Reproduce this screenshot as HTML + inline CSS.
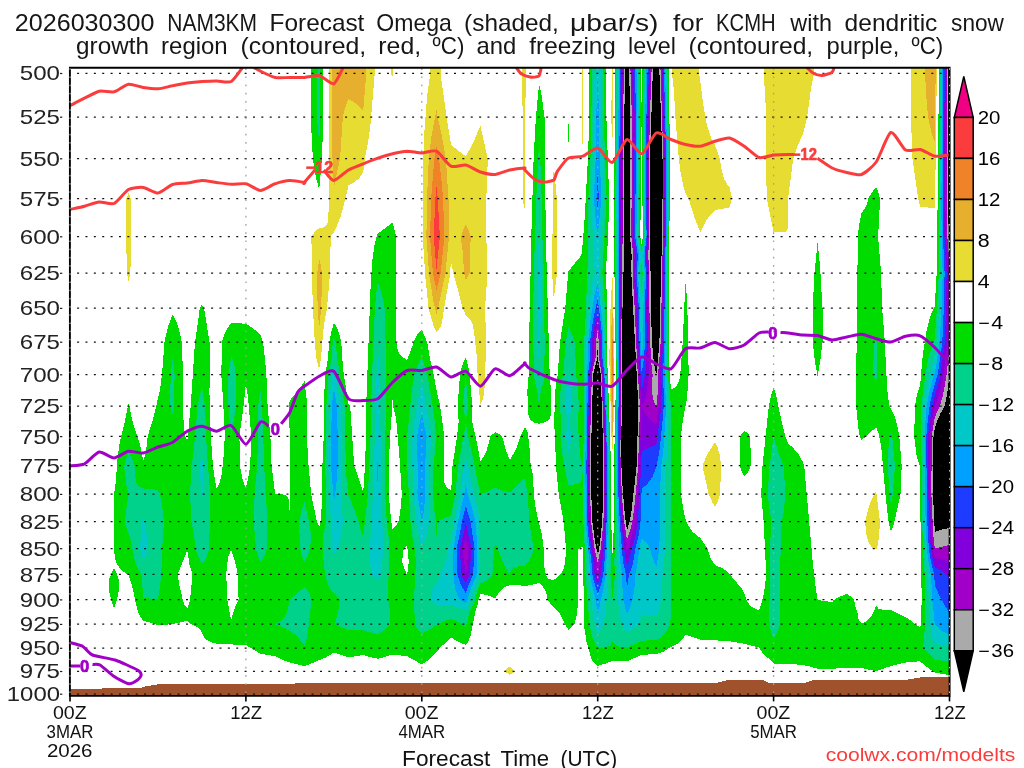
<!DOCTYPE html>
<html lang="en"><head><meta charset="utf-8"><title>NAM3KM Forecast Omega for KCMH</title>
<style>html,body{margin:0;padding:0;background:#fff;}body{width:1024px;height:768px;overflow:hidden;font-family:"Liberation Sans", sans-serif;}svg{display:block;}text{font-family:"Liberation Sans", sans-serif;white-space:pre;}</style></head><body>
<svg width="1024" height="768" viewBox="0 0 1024 768">
<rect width="1024" height="768" fill="#fff"/>
<defs><clipPath id="pc"><rect x="70.0" y="68.0" width="879.5" height="627.5"/></clipPath></defs>
<g clip-path="url(#pc)">
<g shape-rendering="crispEdges">
<path fill="#e6dc32" d="M329.2,67.0L374.7,67.0L374.7,73.5L370.5,124.6L367.9,143.4L364.8,158.8L363.2,172.3L360.7,176.1L358.3,179.0L353.4,182.9L348.5,185.5L343.0,208.3L340.1,217.9L336.3,227.3L333.9,232.1L331.4,235.2L331.0,236.8L330.1,255.2L330.0,273.3L327.0,308.4L325.3,317.0L323.4,329.7L320.9,358.7L319.2,369.2L316.3,358.7L314.8,342.2L312.9,308.4L311.9,273.3L312.0,255.2L311.2,236.8L314.3,232.4L316.7,230.0L319.2,228.3L324.1,227.2L326.5,225.3L327.6,222.6L328.3,217.9L329.0,198.7ZM390.8,67.0L393.2,67.0L393.2,73.5L392.5,76.3L390.8,73.5ZM430.2,67.0L440.5,67.0L440.5,73.5L446.6,117.2L451.1,145.1L465.8,156.3L473.1,143.0L480.4,125.6L487.8,158.8L486.3,198.7L486.3,236.8L487.5,273.3L485.0,308.4L486.3,342.2L484.4,390.7L482.9,399.3L481.6,402.3L480.4,404.1L477.6,374.8L476.6,354.6L474.3,333.9L473.0,325.5L470.7,320.2L468.2,317.2L465.8,315.4L462.7,308.4L458.4,291.1L453.3,273.3L451.1,261.5L449.5,277.8L444.0,308.4L442.9,317.0L441.1,325.5L438.9,329.4L436.5,332.2L433.4,325.5L428.6,308.4L425.4,277.8L422.7,236.8L422.8,198.7L423.2,158.8L424.2,134.0L427.2,95.6L430.2,73.5ZM521.5,67.0L526.2,67.0L525.1,117.2L524.9,198.7L524.5,208.3L524.4,211.5L522.8,198.7L523.4,158.8L522.8,117.2ZM582.1,67.0L583.3,67.0L583.5,117.2L583.1,148.6L583.0,150.1L582.0,138.3L581.8,117.2ZM612.1,67.0L612.5,67.0L612.9,117.2L612.4,143.4L612.4,143.4L611.2,117.2ZM671.6,67.0L699.0,67.0L699.0,73.5L700.3,80.9L703.5,106.4L706.3,122.5L710.1,135.3L712.5,140.8L715.0,145.1L719.9,158.8L721.4,168.9L724.2,179.0L726.8,183.9L729.6,187.5L732.0,198.7L729.6,207.4L719.9,209.2L715.0,210.1L711.9,213.1L708.0,217.9L705.2,222.3L700.3,232.5L694.6,217.9L688.7,198.7L685.6,193.6L684.0,188.8L680.8,174.1L678.8,158.8L675.4,117.2L673.9,90.1L672.7,79.0L671.6,73.5ZM763.8,67.0L813.9,67.0L813.9,73.5L810.8,90.1L807.1,117.2L805.9,122.5L802.9,134.1L798.0,145.1L793.2,158.8L789.3,188.8L788.1,198.7L788.3,227.7L785.8,231.7L784.3,232.1L773.6,232.5L766.9,198.7L765.7,158.8L766.3,117.2L763.8,73.5ZM910.9,67.0L936.8,67.0L936.1,138.3L934.9,203.5L934.8,208.1L920.2,206.9L918.1,198.7L912.5,158.8L910.9,117.2ZM553.6,168.9L553.7,164.1L556.8,198.7L557.2,236.8L556.9,273.3L554.8,291.1L553.7,298.8L552.2,273.3L552.8,198.7ZM128.2,193.7L128.6,192.5L130.8,198.7L131.1,236.8L130.4,273.3L129.4,277.8L128.6,281.2L126.9,273.3L126.2,236.8L126.4,198.7ZM612.2,277.8L612.4,273.6L613.7,325.5L614.5,374.8L613.2,436.6L612.4,451.4L612.4,464.7L612.3,451.4L611.5,436.6L609.3,358.7L610.3,312.7ZM713.8,444.0L715.0,442.5L717.7,447.7L719.9,455.8L721.2,465.9L720.0,494.4L717.7,501.3L715.0,507.5L712.5,502.5L708.7,494.4L702.5,465.9L705.2,458.9L707.6,453.7ZM874.2,494.4L876.2,491.4L880.0,521.9L878.8,538.7L877.6,545.4L876.2,549.6L873.9,548.7L873.8,548.6L871.3,546.5L868.5,542.0L866.4,534.6L865.0,521.9L868.9,506.8L871.3,500.3ZM506.9,668.6L509.8,666.3L515.3,671.5L512.2,673.5L509.8,674.7L504.0,671.5Z"/>
<path fill="#e6af2d" d="M332.3,67.0L366.3,67.0L366.3,73.5L363.2,111.1L359.1,106.4L355.8,103.5L348.5,99.0L346.1,104.8L344.0,111.8L342.9,117.2L342.5,122.5L340.1,158.8L336.7,173.9L333.9,188.8L332.5,158.8ZM925.0,67.0L935.7,67.0L934.9,138.3L934.8,142.3L931.6,133.0L928.0,117.2L925.8,90.1ZM436.1,111.8L436.5,110.0L437.6,117.2L441.3,133.0L445.9,158.8L448.5,198.7L449.0,236.8L445.4,273.3L438.0,308.4L436.5,314.0L433.9,304.1L429.1,274.6L426.4,236.8L427.0,198.7L428.8,158.8L431.6,135.3ZM464.1,227.3L465.8,224.2L468.2,229.2L470.7,236.8L469.5,273.3L467.0,277.8L465.8,279.6L464.1,273.3L462.6,250.6L460.7,236.8ZM319.1,259.8L319.2,259.0L320.5,264.3L322.2,273.3L321.2,308.4L319.8,321.2L319.2,329.4L317.6,308.4L317.2,273.3ZM612.1,312.7L612.4,309.1L613.1,333.9L613.8,374.8L612.5,432.8L612.4,436.4L610.6,374.8L610.5,358.7L611.1,333.9Z"/>
<path fill="#f08228" d="M436.1,148.6L436.5,146.5L439.0,158.8L441.8,183.9L443.1,198.7L444.4,236.8L440.7,273.3L438.6,282.2L436.5,289.9L432.9,273.3L430.0,236.8L431.2,198.7L431.9,188.8L434.4,158.8ZM612.2,338.1L612.4,334.0L612.6,342.2L613.1,374.8L612.5,402.3L612.4,406.1L611.5,374.8Z"/>
<path fill="#fa3c3c" d="M436.3,188.8L436.5,187.4L437.8,198.7L439.9,236.8L436.5,268.8L436.5,269.0L433.7,236.8L435.4,198.7Z"/>
<path fill="#00dc00" d="M311.0,67.0L323.0,67.0L323.3,117.2L323.0,127.7L321.9,158.8L319.8,183.9L319.2,188.8L316.7,180.9L315.2,173.9L313.6,163.9L312.6,153.7L310.7,117.2ZM589.1,67.0L606.3,67.0L606.4,117.2L609.2,198.7L608.1,236.8L605.7,273.3L606.6,291.1L607.2,342.2L607.0,358.7L607.9,374.8L610.5,451.4L611.2,494.4L611.2,521.9L612.4,554.2L613.1,545.4L613.9,521.9L613.7,494.4L614.2,451.4L614.8,436.6L616.0,374.8L613.9,236.8L613.9,198.7L615.1,117.2L615.1,67.0L640.9,67.0L641.7,112.2L642.3,67.0L668.7,67.0L670.0,158.8L670.0,198.7L669.2,236.8L668.8,308.4L669.6,374.8L671.0,389.3L673.4,388.3L675.9,386.6L678.3,382.8L679.5,378.8L680.8,368.2L682.7,342.2L685.0,291.1L685.6,282.5L686.1,286.6L687.2,304.1L688.3,342.2L688.6,374.8L687.0,398.4L683.2,418.3L680.7,436.6L680.7,465.9L681.0,494.4L683.7,511.7L685.6,519.7L686.6,521.9L690.2,528.7L692.9,532.0L696.6,535.4L700.3,537.8L707.4,548.7L710.8,558.5L714.9,565.0L722.3,568.2L727.1,571.4L729.6,573.8L734.5,580.4L741.1,587.3L744.3,593.2L746.7,600.5L749.2,604.3L751.6,606.6L754.1,608.2L758.9,610.1L761.4,603.7L763.2,596.7L764.8,587.3L766.2,574.6L763.8,523.6L761.2,494.4L762.5,465.9L768.8,406.2L771.2,394.5L773.6,387.6L776.0,394.9L781.6,421.5L785.5,436.6L786.9,440.3L788.3,443.6L793.1,447.8L799.0,455.0L802.9,462.1L804.2,465.9L813.0,565.0L816.1,590.5L817.6,600.1L832.2,602.0L833.9,599.9L834.7,599.4L839.7,596.7L846.9,593.8L851.0,596.7L854.2,599.9L855.2,606.0L857.3,612.2L858.4,618.3L859.7,621.3L861.5,623.5L866.1,621.3L869.7,618.3L871.9,615.2L875.0,609.1L876.2,604.2L876.6,606.0L878.7,608.8L883.5,609.7L890.9,610.0L908.0,618.6L912.1,621.3L915.3,624.6L920.2,627.1L920.8,624.4L921.7,599.9L920.5,521.9L920.2,467.1L917.7,460.1L916.5,455.0L914.6,440.3L914.3,436.6L914.8,406.2L917.1,394.5L920.2,384.4L922.8,354.6L926.8,329.7L930.0,317.0L932.4,310.8L934.8,306.0L936.9,268.8L939.0,67.0L949.5,67.0L949.5,675.1L934.8,672.6L925.1,665.8L920.2,661.3L908.0,662.1L900.6,663.5L886.0,667.6L876.2,671.2L861.5,668.0L846.9,668.0L832.2,668.7L817.6,668.7L810.2,666.6L802.9,665.0L788.3,663.7L773.6,663.5L770.3,660.0L763.8,654.3L761.3,651.2L758.9,647.5L744.3,643.7L729.6,641.2L700.3,639.5L685.6,634.7L682.5,639.4L678.3,643.1L674.8,645.3L668.6,648.3L664.4,651.2L661.2,652.6L656.3,654.0L641.7,654.9L627.0,661.3L612.4,661.0L605.0,663.8L597.7,665.8L594.2,662.9L591.8,660.0L586.6,642.3L584.7,630.4L584.0,624.4L583.0,546.5L578.5,548.7L578.2,574.6L578.4,599.9L576.7,615.2L574.6,624.4L568.4,629.8L565.1,624.4L561.1,615.7L558.6,612.2L552.3,606.0L547.5,599.9L546.4,593.7L545.3,590.5L541.1,584.2L539.1,583.1L531.7,584.9L524.4,586.1L519.5,585.3L509.8,585.1L504.9,587.0L502.4,588.8L498.1,593.6L495.1,598.8L492.6,597.1L490.2,596.0L485.3,594.7L480.4,594.0L478.6,599.9L477.3,606.0L475.2,612.2L470.7,635.6L468.2,641.7L465.8,645.0L458.4,641.8L451.1,637.6L439.4,648.3L436.5,652.5L431.7,657.0L428.4,660.0L421.8,664.4L407.1,656.2L392.5,654.5L385.2,656.9L377.8,658.8L370.1,657.0L363.2,655.0L348.5,657.5L333.9,652.5L326.5,657.1L304.5,666.3L287.4,661.7L282.5,659.8L275.2,656.3L260.6,653.8L245.9,645.0L233.7,644.6L231.2,643.5L216.6,643.8L211.4,642.3L206.8,639.9L204.4,637.4L201.9,632.4L199.5,628.9L197.0,626.8L191.6,624.4L189.7,623.1L187.3,620.5L182.4,622.1L175.1,623.5L167.7,624.6L157.9,625.2L155.5,624.1L143.3,620.7L139.5,615.2L137.1,609.1L132.4,587.3L128.6,574.8L123.7,571.9L121.3,569.8L118.9,567.0L115.9,561.7L114.6,555.2L113.9,548.7L113.9,494.4L115.6,483.8L117.5,458.7L118.9,447.5L120.2,440.3L124.9,421.5L127.8,406.2L128.6,403.8L129.5,406.2L131.7,417.7L133.6,425.3L140.0,444.0L143.3,460.7L144.1,458.7L146.1,451.4L147.6,436.6L153.4,417.7L159.8,390.7L162.0,374.8L164.5,342.2L165.3,338.1L168.4,325.5L172.6,314.3L175.1,318.7L177.7,325.5L179.9,333.3L181.7,342.2L183.1,374.8L182.8,406.2L183.3,417.7L184.8,434.7L185.2,436.6L187.3,441.2L190.7,406.2L195.0,342.2L199.8,308.4L201.9,304.5L204.1,308.4L209.5,342.2L210.1,374.8L209.4,390.7L210.8,436.6L212.9,465.9L214.4,476.7L216.6,488.8L219.3,483.8L221.9,473.1L223.4,458.7L224.8,436.6L223.0,398.4L221.3,374.8L222.0,342.2L223.9,335.8L226.4,330.1L228.8,326.1L231.2,323.0L245.9,323.7L253.2,328.4L259.5,333.9L260.6,335.1L263.0,342.0L265.0,358.7L266.6,378.8L267.6,406.2L270.4,436.6L271.6,465.9L274.8,490.9L275.2,493.7L282.7,494.4L285.0,494.9L287.4,496.6L288.1,497.9L289.0,501.3L289.9,516.1L290.1,436.6L289.3,425.3L288.8,406.2L289.9,400.4L297.9,390.7L304.5,381.3L307.5,406.2L306.9,436.6L308.3,462.3L311.2,494.4L316.9,521.9L319.2,526.6L320.7,521.9L322.5,494.4L322.4,465.9L323.7,436.6L323.7,406.2L325.2,374.8L327.9,358.7L329.2,342.2L331.4,331.9L333.9,322.9L336.3,326.7L338.7,331.9L341.3,342.2L342.3,358.7L343.8,374.8L348.5,404.3L350.2,406.2L354.2,465.9L358.2,476.7L363.2,492.5L365.0,465.9L366.0,436.6L366.2,406.2L370.6,286.6L372.4,259.8L374.3,246.0L376.5,236.8L377.8,233.6L392.5,222.6L396.2,236.8L396.4,342.2L397.0,346.3L397.9,350.5L399.8,354.6L402.3,357.1L407.1,360.0L415.4,338.1L417.8,333.9L421.8,329.7L427.2,342.2L429.9,358.7L433.8,374.8L436.5,390.2L440.2,406.2L443.3,429.1L444.2,436.6L444.1,465.9L443.5,480.3L444.6,483.8L446.9,487.3L448.7,488.7L451.1,489.8L452.0,480.3L452.5,465.9L457.0,436.6L458.7,421.5L457.5,406.2L460.0,374.8L461.8,366.7L463.3,362.4L465.8,357.5L468.2,366.7L469.7,374.8L472.3,406.2L472.1,421.5L475.6,436.6L480.4,461.1L482.9,457.9L486.3,451.4L488.5,444.0L490.2,436.6L495.1,432.1L500.0,434.7L502.2,436.6L506.3,451.4L509.8,460.0L514.9,451.4L518.0,444.0L520.4,436.6L524.4,427.6L526.3,429.1L527.8,432.8L529.5,447.7L530.7,465.9L531.8,469.5L533.1,476.7L533.8,494.4L535.1,504.8L537.0,515.1L541.3,532.0L543.0,542.0L543.7,548.7L544.2,565.0L544.8,571.4L547.3,577.8L548.8,579.0L553.7,580.2L561.1,573.6L563.5,569.1L564.5,565.0L565.4,558.5L566.0,548.7L563.7,521.9L558.7,494.4L556.3,469.5L554.2,421.5L555.2,390.7L557.7,374.8L560.0,342.2L565.2,308.4L568.4,271.2L581.4,255.2L582.1,250.6L584.7,217.9L587.9,158.8L588.6,138.3ZM641.7,117.5L640.9,158.8L640.9,198.7L640.2,236.8L641.7,244.5L642.8,236.8ZM187.3,550.4L177.5,574.6L179.9,587.7L182.8,599.9L184.8,605.3L187.3,608.3L188.3,606.0L190.0,599.9L192.5,574.6L189.5,565.0ZM231.2,550.0L228.8,555.2L228.0,558.5L227.0,565.0L226.2,574.6L227.4,599.9L229.5,612.2L231.2,619.9L234.3,609.1L236.1,604.5L238.6,599.9L237.9,574.6L235.1,561.7ZM245.9,383.6L243.5,406.2L239.4,436.6L240.2,465.9L240.6,469.5L242.8,480.3L244.0,483.8L245.9,487.6L248.4,476.7L250.2,465.9L251.3,436.6L248.1,398.4ZM392.5,400.1L392.4,406.2L390.0,436.6L388.8,465.9L388.8,494.4L390.9,518.5L392.5,528.9L394.9,527.1L396.5,525.3L398.3,521.9L400.3,511.7L401.8,494.4L399.6,458.7L396.8,425.3L395.2,413.9L393.0,406.2ZM407.1,545.2L403.7,548.7L402.7,555.2L402.2,561.7L404.7,569.2L405.6,571.4L407.1,574.9L408.8,561.7ZM539.0,84.6L539.1,83.9L539.2,84.6L541.7,95.6L544.5,117.2L545.8,236.8L549.7,374.8L551.0,390.7L551.5,406.2L550.9,413.9L550.1,417.7L548.8,419.9L546.4,421.4L544.0,422.4L539.1,423.8L534.2,422.5L531.7,421.0L529.0,417.7L527.8,410.1L527.4,390.7L528.7,374.8L528.8,342.2L530.0,308.4L531.0,246.0L533.6,158.8L535.9,117.2ZM568.2,122.5L568.4,118.7L568.8,138.3L568.4,143.1L567.8,138.3ZM874.7,188.8L876.2,187.1L878.7,193.5L880.1,198.7L878.1,236.8L881.1,273.3L882.1,308.4L884.3,333.9L887.3,390.7L889.3,406.2L891.8,410.1L893.6,413.9L895.8,419.9L898.2,429.9L899.3,436.6L901.7,465.9L900.5,494.4L894.4,521.9L893.3,525.9L890.9,531.4L888.6,521.9L888.2,518.5L885.4,494.4L881.7,451.4L880.1,440.3L878.4,432.8L876.2,427.7L871.3,431.0L865.7,436.6L861.5,439.9L859.9,436.6L858.5,429.1L856.1,406.2L856.1,374.8L857.4,308.4L857.6,236.8L859.5,222.6L861.5,213.1L865.2,208.3L867.1,203.5L868.2,198.7L871.3,193.4ZM817.2,246.0L817.6,242.6L820.0,265.8L822.5,308.4L822.5,342.2L820.0,362.7L817.9,374.8L817.6,376.3L815.1,362.7L812.7,342.2L812.9,304.1L814.5,273.3ZM742.4,432.8L744.3,430.8L747.1,432.8L750.4,436.6L750.7,465.9L749.2,469.9L747.3,473.1L744.3,476.3L741.8,471.5L739.6,465.9L739.9,436.6Z"/>
<path fill="#00d28c" d="M317.6,67.0L320.0,67.0L320.3,117.2L319.4,138.3L319.2,142.4L316.9,117.2ZM592.0,67.0L603.4,67.0L604.4,138.3L606.6,198.7L602.3,273.3L604.1,291.1L605.4,321.2L606.0,342.2L605.9,358.7L607.0,374.8L609.6,451.4L610.2,494.4L610.3,545.4L611.0,561.7L610.5,574.6L612.4,599.6L615.1,574.6L614.2,561.7L615.2,548.7L615.4,535.4L614.9,494.4L615.1,451.4L615.6,436.6L616.7,374.8L615.1,236.8L615.2,198.7L616.3,117.2L616.4,67.0L639.4,67.0L640.2,95.6L640.3,117.2L638.9,236.8L641.7,251.0L643.8,236.8L643.2,198.7L642.9,117.2L642.9,101.0L643.7,67.0L667.5,67.0L669.1,158.8L669.1,198.7L668.3,236.8L667.7,308.4L668.1,342.2L667.9,374.8L671.0,406.2L671.1,548.7L670.6,574.6L671.2,612.2L670.1,624.4L667.0,630.4L662.7,636.4L656.3,639.7L641.7,640.8L627.0,647.4L619.7,646.6L615.5,645.3L612.8,642.3L612.4,641.0L612.0,642.3L610.3,645.3L607.5,646.9L602.6,647.8L597.7,648.2L595.8,645.3L591.9,636.4L589.5,624.4L585.5,574.8L584.8,548.7L583.4,521.9L583.1,494.4L583.0,465.9L583.7,436.6L584.4,358.7L584.1,342.2L586.2,308.4L586.9,277.8L588.3,255.2L587.9,236.8L588.3,198.7L590.5,158.8L591.1,138.3ZM641.7,263.2L640.6,273.3L641.7,289.4L642.6,273.3ZM940.2,67.0L949.5,67.0L949.5,661.9L934.8,659.4L932.4,656.9L923.2,648.3L924.0,636.4L925.5,624.4L924.7,574.6L923.1,551.9L922.2,521.9L921.8,465.9L920.9,436.6L921.3,406.2L923.5,386.7L927.5,362.3L930.0,351.9L933.7,342.2L934.8,338.3L937.5,299.7L938.8,273.3L938.8,198.7ZM539.1,143.4L540.2,158.8L541.3,183.9L542.4,236.8L543.9,273.3L544.6,342.2L544.4,374.8L543.2,382.7L540.8,390.7L539.1,406.2L539.1,406.3L537.3,390.7L535.1,382.7L533.9,374.8L533.3,342.2L533.6,273.3L535.2,236.8L536.8,183.9ZM377.8,282.2L380.3,287.8L383.2,299.7L384.5,308.4L385.2,325.5L386.4,374.8L386.3,406.2L385.3,436.6L385.2,494.4L386.8,521.9L388.5,535.4L388.9,561.7L388.0,596.7L387.6,598.8L384.4,599.9L387.6,600.6L389.0,602.9L389.6,609.1L389.8,624.4L383.5,630.4L377.8,634.8L363.2,630.2L348.5,630.0L335.0,624.4L338.0,612.2L339.9,599.9L336.3,595.5L331.2,590.5L329.0,587.0L326.5,580.4L324.7,571.4L323.4,558.5L322.7,548.7L322.7,535.4L324.6,528.7L325.9,521.9L326.1,494.4L325.2,465.9L326.2,436.6L326.4,406.2L328.6,374.8L331.5,358.7L332.7,342.2L333.9,337.7L335.6,342.2L337.3,358.7L344.9,406.2L345.7,465.9L346.7,480.3L347.9,490.9L348.5,494.6L358.9,521.9L360.7,529.8L363.2,537.1L367.9,494.4L370.5,436.6L372.0,374.8L374.9,308.4L376.5,291.1ZM567.9,329.7L568.4,326.9L571.7,333.9L574.8,342.2L576.2,374.8L578.0,390.7L578.9,406.2L577.8,421.5L579.2,444.0L580.6,458.7L581.4,462.3L582.9,465.9L582.3,476.7L581.5,480.3L580.6,482.1L577.9,483.8L573.3,484.6L568.4,484.9L565.9,474.4L561.8,451.4L560.5,436.6L561.0,421.5L560.0,406.2L560.5,390.7L563.1,374.8L565.9,342.2ZM874.5,342.2L876.2,339.2L876.6,342.2L876.9,374.8L876.2,382.1L872.8,374.8ZM421.8,354.6L422.4,358.7L427.1,374.8L430.1,390.7L433.8,413.9L436.4,436.6L433.4,465.9L433.0,494.4L434.6,511.7L436.4,521.9L436.5,535.4L436.7,521.9L443.5,518.5L451.1,515.5L455.2,494.4L458.1,465.9L463.6,436.6L465.8,422.7L468.2,436.6L474.8,465.9L480.4,494.2L487.8,491.4L495.1,487.6L502.4,490.5L509.8,492.5L522.0,480.3L524.4,478.6L525.9,483.8L527.8,494.4L529.2,521.9L533.7,548.7L531.7,555.4L529.1,561.7L525.4,565.0L524.4,565.6L517.1,566.4L514.6,567.1L512.8,568.2L510.6,571.4L509.8,574.7L507.7,571.4L501.4,558.5L497.7,548.7L495.1,543.9L494.2,548.7L492.4,574.6L490.2,577.7L487.8,580.0L485.3,581.5L480.4,583.5L478.8,587.3L473.1,605.1L469.4,612.2L465.8,626.8L458.4,622.1L451.1,618.9L444.2,621.3L438.9,623.7L421.8,634.0L418.8,630.4L415.1,624.4L414.9,621.3L413.7,599.9L414.7,587.3L415.9,561.7L414.9,548.7L412.2,535.4L410.5,521.9L407.2,465.9L407.2,436.6L411.3,394.5L413.5,378.8L414.2,374.8L415.5,370.8L418.7,362.7L420.8,358.7ZM172.5,358.7L172.6,357.3L174.6,374.8L174.0,406.2L172.7,413.9L172.6,414.5L170.3,406.2L170.6,374.8ZM230.8,358.7L231.2,355.7L233.7,362.5L234.6,366.7L235.7,374.8L235.8,382.7L235.8,406.2L231.3,436.6L231.3,444.0L231.2,446.9L231.2,436.6L228.3,406.2L228.4,374.8ZM465.4,378.8L465.8,375.1L468.1,406.2L465.8,420.8L462.9,406.2ZM201.9,386.7L205.0,406.2L206.8,451.4L210.3,494.4L210.3,508.3L209.0,548.7L207.3,555.2L206.0,558.5L204.4,561.1L201.9,563.9L197.7,555.2L195.6,548.7L193.6,532.0L191.4,521.9L190.1,494.4L191.4,465.9L193.7,451.4L197.6,406.2L199.1,398.4L201.3,390.7ZM259.9,394.5L260.6,391.9L262.1,406.2L264.4,469.5L267.5,521.9L267.2,548.7L264.7,555.2L261.1,561.7L260.6,562.5L258.1,556.2L256.0,548.7L253.7,521.9L254.6,494.4L257.1,465.9L258.1,436.6L258.0,406.2ZM890.4,432.8L890.9,431.9L892.3,436.6L895.0,465.9L892.8,494.4L891.5,501.3L890.9,504.6L889.7,494.4L887.8,465.9L888.9,436.6ZM773.6,436.6L778.5,453.2L783.9,465.9L785.2,494.4L784.1,508.3L783.2,515.1L781.7,521.9L781.4,528.7L779.9,574.6L779.6,599.9L780.1,624.4L776.0,635.0L775.4,636.4L773.6,638.6L772.5,636.4L768.7,624.4L770.4,574.6L769.9,548.7L771.3,521.9L767.6,494.4L769.5,465.9ZM127.4,455.0L128.6,452.1L131.1,456.8L133.5,462.9L134.5,465.9L135.7,480.3L136.7,483.8L138.4,486.2L140.1,487.3L143.3,488.4L153.1,489.3L157.9,490.3L160.0,494.4L160.4,496.0L162.4,508.3L163.9,521.9L162.1,548.7L161.3,574.6L159.9,587.3L158.4,596.7L157.9,599.4L143.3,598.0L141.4,574.6L137.6,568.2L135.0,561.7L130.4,538.7L126.2,527.0L124.7,521.9L126.4,508.3L128.6,494.4L126.1,483.8L124.2,465.9ZM303.6,504.8L304.5,502.3L309.1,521.9L309.8,528.7L311.5,535.4L310.3,545.4L308.9,551.9L307.0,557.5L304.8,561.7L304.5,562.1L302.1,555.9L300.0,548.7L299.2,525.3L299.1,521.9L299.8,518.5L301.4,511.7ZM300.5,590.5L304.5,587.3L307.0,590.0L309.3,593.6L311.8,599.9L310.5,609.1L308.2,630.4L306.5,639.4L304.5,645.9L302.1,642.3L296.8,636.4L292.3,632.6L285.0,628.1L275.2,624.4L260.6,624.4L275.2,624.4L280.5,621.3L283.5,618.3L285.5,615.2L286.9,612.2L288.6,606.0L289.9,599.6Z"/>
<path fill="#00c8c8" d="M594.8,67.0L600.6,67.0L601.8,138.3L604.0,198.7L601.2,236.8L599.0,273.3L601.5,291.1L604.5,333.9L604.8,342.2L604.8,358.7L606.1,374.8L608.7,451.4L609.2,494.4L608.8,561.7L607.2,593.6L605.6,612.2L603.9,621.3L601.9,627.4L600.1,630.9L597.7,634.5L594.9,624.4L593.7,618.3L592.8,612.2L591.7,599.9L587.8,574.6L587.3,561.7L584.6,521.9L584.2,494.4L584.2,465.9L585.5,374.8L586.2,358.7L586.0,342.2L587.3,325.5L589.4,308.4L590.9,291.1L592.8,280.0L594.7,273.3L591.0,198.7L593.4,148.6L593.7,117.2ZM617.6,67.0L637.9,67.0L638.9,117.2L637.7,236.8L641.1,255.2L639.2,273.3L641.7,308.3L643.8,273.3L642.1,255.2L644.7,236.8L644.2,198.7L644.0,117.2L645.0,67.0L666.3,67.0L668.1,158.8L668.1,198.7L667.4,236.8L666.7,308.4L666.9,342.2L666.3,374.8L668.5,406.2L667.1,451.4L666.1,465.9L666.1,467.2L665.5,494.4L665.6,521.9L665.1,548.7L664.1,561.7L662.6,574.6L661.6,599.9L658.8,611.5L656.3,616.5L646.6,615.6L644.1,614.9L641.7,613.6L640.9,618.3L639.1,624.4L634.3,627.9L627.0,632.0L624.6,629.3L621.7,624.4L619.1,612.2L618.0,599.9L617.9,587.3L618.7,574.6L617.1,561.7L617.5,548.7L616.0,494.4L615.9,451.4L617.4,374.8L616.4,198.7ZM941.3,67.0L949.5,67.0L949.5,646.6L934.8,643.6L932.4,639.6L931.2,636.4L929.4,612.2L927.8,574.6L925.7,558.5L924.3,535.4L922.7,436.6L923.6,413.9L924.5,402.3L927.5,384.4L931.7,366.7L934.8,356.6L936.5,346.3L937.1,342.2L939.2,308.4L940.7,273.3L940.2,236.8L940.1,198.7ZM538.7,241.4L539.1,236.8L541.2,273.3L540.4,333.9L539.1,374.8L539.1,374.9L537.7,333.9L536.7,273.3ZM377.7,350.5L377.8,348.9L378.7,358.7L379.8,374.8L380.6,436.6L381.8,465.9L381.5,494.4L382.3,521.9L383.1,535.4L383.1,548.7L381.9,565.0L380.5,574.6L377.8,579.8L374.6,577.8L371.4,574.6L370.5,565.0L369.9,548.7L372.9,494.4L373.1,465.9L375.1,436.6L376.5,374.8ZM333.4,366.7L333.9,364.6L336.0,374.8L338.1,390.7L340.9,406.2L341.6,436.6L341.8,501.3L342.2,511.7L343.1,521.9L341.2,535.6L338.6,548.7L336.5,551.9L333.9,554.9L332.0,548.7L330.8,535.4L331.0,521.9L328.1,465.9L329.0,406.2L332.0,374.8ZM567.8,378.8L568.4,375.0L571.4,390.7L572.2,406.2L569.1,421.5L571.6,436.6L570.4,444.0L568.6,451.4L568.4,451.9L565.9,436.6L567.8,421.5L565.3,406.2L565.9,390.7ZM421.5,382.7L421.8,381.7L423.6,390.7L429.1,421.0L431.5,436.6L429.3,465.9L429.1,521.9L426.5,535.4L424.5,542.0L423.0,545.4L421.8,547.7L418.7,535.4L416.2,521.9L413.6,497.9L412.4,465.9L412.1,436.6L414.8,417.7L417.1,406.2L419.6,390.7ZM201.5,455.0L201.9,451.6L203.0,465.9L202.6,494.4L202.3,497.9L201.9,501.3L200.9,494.4L200.0,465.9ZM465.3,458.7L465.8,456.6L468.2,465.9L474.1,494.4L477.6,508.3L480.4,521.9L480.4,574.6L475.1,587.3L470.7,601.0L468.2,606.0L465.8,609.6L456.0,607.2L451.1,604.6L436.5,605.4L433.1,602.9L430.2,599.9L432.5,590.5L434.0,587.2L436.5,583.8L437.9,581.0L440.1,574.6L443.8,566.9L446.2,558.8L448.2,548.7L451.1,541.9L454.0,521.9L459.8,494.4L463.1,469.5ZM141.5,521.9L143.3,519.0L145.2,521.9L148.3,548.7L146.1,555.2L145.7,556.2L143.3,560.9L140.2,548.7Z"/>
<path fill="#00a0ff" d="M618.9,67.0L636.4,67.0L637.5,117.2L636.4,236.8L639.5,255.2L637.9,273.3L640.3,308.4L640.6,342.2L641.7,357.9L643.4,342.2L643.2,308.4L644.9,273.3L643.3,255.2L645.7,236.8L645.1,198.7L645.2,117.2L646.4,67.0L665.1,67.0L667.2,158.8L667.2,198.7L665.6,308.4L665.6,342.2L664.6,374.8L666.1,406.2L665.7,413.9L663.3,451.4L661.2,465.9L659.9,494.4L660.1,521.9L659.3,548.7L656.3,567.3L653.9,561.7L650.0,548.7L649.0,546.4L646.1,542.0L641.7,538.3L639.2,548.7L637.9,561.7L635.4,574.6L634.5,587.3L632.5,599.9L629.7,609.1L627.0,614.1L625.6,609.1L623.6,599.9L622.4,587.3L622.3,574.6L620.1,561.7L617.2,490.9L616.8,451.4L618.1,374.8L617.7,198.7ZM942.4,67.0L949.5,67.0L949.5,634.6L944.6,632.5L941.2,630.4L937.6,627.4L934.9,624.4L934.8,624.2L932.4,600.4L931.0,574.6L928.5,561.7L926.9,548.7L925.6,521.9L925.2,494.4L924.5,436.6L926.0,413.9L926.7,406.2L928.8,394.5L931.7,382.7L934.8,372.8L938.5,350.5L939.7,342.2L941.5,308.4L942.7,273.3L941.6,236.8L941.4,198.7ZM597.6,79.0L597.7,74.0L599.1,117.2L599.2,138.3L599.8,158.8L601.4,198.7L597.7,236.8L597.7,237.1L596.0,222.6L593.8,198.7L595.7,158.8L596.2,138.3L596.2,117.2ZM596.5,286.6L597.7,283.0L599.0,291.1L601.8,317.0L603.4,338.1L603.6,358.7L605.2,374.8L607.7,451.4L608.2,494.4L607.4,542.0L605.7,574.6L603.3,590.5L600.7,599.9L599.1,609.1L597.7,614.2L595.6,599.9L591.8,584.2L590.1,574.6L589.4,561.7L587.1,538.7L585.9,521.9L585.3,465.9L586.7,374.8L588.1,358.7L588.0,342.2L590.9,317.0L594.5,295.4ZM333.7,390.7L333.9,388.7L337.0,406.2L337.7,436.6L337.8,465.9L336.3,484.8L334.5,497.9L333.9,501.2L331.0,465.9L331.7,406.2ZM421.8,413.9L426.6,436.6L425.1,465.9L425.5,494.4L423.7,511.7L422.5,518.5L421.8,521.8L417.5,494.4L417.6,465.9L417.0,436.6L419.1,425.3ZM377.8,458.7L378.4,465.9L377.9,490.9L377.8,493.5L377.2,465.9ZM465.3,487.3L465.8,484.2L467.8,494.4L471.1,504.8L475.5,521.9L477.5,548.7L476.8,574.6L471.4,587.3L467.4,599.9L465.8,602.9L459.9,599.9L458.1,596.7L456.0,590.7L454.5,584.2L453.3,574.6L453.4,548.7L457.9,521.9L464.3,494.4Z"/>
<path fill="#1e3cff" d="M620.2,67.0L634.9,67.0L636.1,117.2L635.2,236.8L637.9,255.2L636.6,273.3L638.9,308.4L639.5,342.2L641.7,373.4L643.9,358.7L645.1,342.2L644.8,308.4L646.1,273.3L644.5,255.2L646.6,236.8L646.1,198.7L646.2,143.4L646.6,106.4L647.7,67.0L663.9,67.0L666.2,158.8L666.3,198.7L664.5,308.4L664.4,333.9L664.4,342.2L663.0,374.8L663.6,390.7L663.7,406.2L662.5,421.5L659.4,451.4L657.3,462.3L655.4,469.5L652.5,476.7L650.3,480.3L646.6,484.7L641.7,488.5L640.5,521.9L639.2,532.8L635.4,548.7L633.3,561.7L631.5,568.2L629.1,574.6L627.0,588.4L625.9,574.6L623.0,561.7L620.2,528.7L618.4,494.4L617.8,465.9L618.9,374.8L618.6,342.2L618.9,308.4L618.9,198.7ZM943.5,67.0L949.5,67.0L949.5,613.9L941.8,599.9L939.7,596.3L934.8,585.3L934.2,574.6L930.9,561.7L928.9,548.7L927.6,528.7L926.7,494.4L926.3,436.6L927.2,425.3L930.0,403.5L932.4,392.8L937.5,374.8L940.1,358.7L942.3,342.2L943.6,312.7L944.6,273.3L943.0,236.8L942.7,198.7ZM597.5,173.9L597.7,170.0L598.8,198.7L597.8,208.3L597.7,208.8L596.5,198.7ZM597.4,299.7L597.7,298.6L597.9,299.7L601.5,329.7L602.4,342.2L602.5,358.7L604.4,374.8L606.8,451.4L607.2,494.4L606.1,538.7L605.3,551.9L603.3,574.6L601.2,584.2L597.7,594.5L593.8,581.0L592.3,574.6L591.4,561.7L588.3,535.4L587.2,521.9L586.4,465.9L588.0,374.8L589.9,358.7L589.9,342.2L592.8,321.4ZM465.2,508.3L465.8,506.1L470.6,521.9L474.6,548.7L473.1,574.6L467.6,587.3L466.7,590.5L465.8,593.3L460.5,584.2L457.4,574.6L456.5,548.7L459.5,535.4L461.9,521.9Z"/>
<path fill="#8200dc" d="M621.5,67.0L633.4,67.0L634.7,117.2L633.9,236.8L636.3,255.2L635.2,273.3L637.5,308.4L638.3,342.2L641.7,389.9L643.6,382.7L645.1,374.8L646.1,362.7L646.8,342.2L646.3,308.4L647.2,273.3L645.8,255.2L647.5,236.8L647.1,158.8L647.6,117.2L649.0,67.0L662.8,67.0L665.3,158.8L665.3,198.7L663.9,286.6L663.4,308.4L663.2,342.2L661.3,374.8L661.7,390.7L660.9,410.1L656.3,444.9L648.3,447.7L641.7,451.1L640.8,473.1L637.8,521.9L635.4,535.4L631.6,548.7L628.7,561.7L627.0,566.2L625.0,555.2L621.2,521.9L619.6,494.4L618.7,465.9L619.6,374.8L619.4,342.2L620.1,273.3L620.4,158.8ZM944.7,67.0L949.5,67.0L949.5,580.3L946.4,574.6L942.2,571.3L937.3,568.5L934.8,567.3L933.4,561.7L930.9,548.7L929.7,535.4L928.3,494.4L928.1,436.6L928.8,429.1L932.1,406.2L934.8,395.4L937.6,386.7L940.5,374.8L944.9,342.2L946.1,308.4L946.6,273.3L944.5,236.8L944.0,198.7ZM597.5,312.7L597.7,312.1L599.1,321.2L600.5,333.9L601.3,342.2L601.3,358.7L603.5,374.8L605.9,451.4L606.2,494.4L605.6,521.9L604.0,548.7L602.2,561.7L600.9,574.6L597.7,584.6L594.6,574.6L593.5,561.7L591.3,548.7L589.1,528.7L588.5,521.9L587.8,494.4L587.5,465.9L589.3,374.8L591.8,358.7L591.9,342.2L594.5,325.5ZM465.2,525.3L465.8,522.4L471.6,548.7L469.4,574.6L466.7,581.0L465.8,583.1L463.3,578.8L461.6,574.6L459.6,548.7L463.2,535.4Z"/>
<path fill="#a000c8" d="M622.8,67.0L631.9,67.0L633.3,117.2L632.6,236.8L634.7,255.2L633.9,273.3L636.1,308.4L638.1,358.7L641.7,406.1L644.1,402.3L645.3,398.4L647.4,386.7L648.8,374.8L647.8,308.4L648.4,273.3L647.0,255.2L648.5,236.8L648.0,158.8L648.8,117.2L650.4,67.0L661.6,67.0L664.4,158.8L664.4,198.7L663.0,277.8L661.9,342.2L659.6,374.8L659.8,390.7L658.8,406.2L656.3,424.1L651.8,421.5L647.7,417.7L644.1,412.3L641.7,406.4L639.6,465.9L635.8,515.1L635.0,521.9L633.7,528.7L627.0,552.1L623.9,532.0L622.4,518.5L620.7,494.4L619.6,465.9L620.3,374.8L620.1,342.2L621.2,273.3L621.9,117.2ZM945.8,67.0L949.5,67.0L949.5,562.3L942.2,559.5L934.8,558.0L932.9,548.7L931.5,535.4L929.9,494.4L929.9,436.6L930.3,432.8L932.4,418.3L934.8,406.2L939.1,394.5L942.8,378.8L945.1,362.7L947.5,342.2L948.4,308.4L948.5,273.3L945.9,236.8L945.3,198.7ZM596.9,325.5L597.7,322.3L599.2,333.9L600.1,342.2L600.2,358.7L602.6,374.8L605.0,451.4L605.1,465.9L605.2,494.4L604.1,528.7L602.4,548.7L600.0,561.7L598.5,574.6L597.7,577.2L596.9,574.6L595.6,561.7L592.5,545.4L589.8,521.9L588.9,494.4L588.6,465.9L590.6,374.8L591.9,366.7L593.6,358.7L593.8,342.2ZM465.7,538.7L468.7,548.7L466.2,571.4L465.8,574.5L462.7,548.7Z"/>
<path fill="#aaaaaa" d="M624.1,67.0L630.4,67.0L631.9,117.2L631.4,236.8L633.2,255.2L632.6,273.3L634.7,308.4L637.1,362.7L640.0,406.2L638.1,465.9L636.6,483.8L634.2,508.3L632.3,521.9L631.5,525.3L630.6,528.7L627.0,540.0L624.2,521.9L622.6,504.8L620.8,473.1L620.4,451.4L620.9,406.2L620.9,342.2L621.8,308.4L622.6,236.8L623.0,117.2ZM651.7,67.0L660.4,67.0L663.4,158.8L663.4,198.7L662.9,236.8L660.7,342.2L658.0,374.8L657.9,390.7L656.8,402.3L656.3,406.1L653.9,401.4L653.1,398.4L651.9,390.7L652.6,374.8L651.3,362.7L650.4,346.3L649.4,308.4L649.5,273.3L648.2,255.2L649.4,236.8L649.0,158.8L649.9,117.2ZM946.9,67.0L949.5,67.0L949.5,264.3L947.3,236.8L946.6,198.7ZM597.4,333.9L597.7,332.3L598.9,342.2L599.1,358.7L601.7,374.8L604.1,451.4L604.2,465.9L604.2,494.4L603.4,521.9L600.8,548.7L597.7,562.2L594.6,548.7L591.1,521.9L590.1,494.4L589.7,465.9L590.9,406.2L591.9,374.8L593.4,366.7L595.5,358.7L595.8,342.2ZM949.3,350.5L949.5,545.0L934.8,548.6L933.3,535.4L931.4,494.4L931.7,436.6L934.8,417.4L937.3,411.1L939.7,406.2L942.1,398.4L943.9,390.7L946.5,374.8Z"/>
<path fill="#000000" d="M625.4,67.0L628.9,67.0L630.5,117.2L630.1,236.8L631.6,255.2L631.3,273.3L638.4,406.2L636.6,465.9L635.9,473.1L631.4,511.7L629.6,521.9L629.5,522.3L627.0,530.2L624.9,515.1L622.8,490.9L621.4,465.9L621.3,451.4L621.7,406.2L621.6,342.2L623.5,273.3L623.9,236.8L624.2,117.2ZM653.0,67.0L659.2,67.0L662.5,158.8L662.5,198.7L662.0,236.8L659.4,342.2L657.3,366.7L656.3,374.7L653.9,362.6L652.0,342.2L650.9,308.4L650.7,273.3L649.5,255.2L650.4,236.8L650.0,158.8ZM948.0,67.0L949.5,67.0L949.5,246.0L948.8,236.8L947.9,198.7ZM597.6,346.3L597.9,358.7L600.8,374.8L602.8,436.6L603.3,465.9L603.2,494.4L602.2,521.9L600.1,542.2L599.2,548.7L598.5,551.9L597.7,555.1L595.1,542.0L592.4,521.9L591.3,494.4L590.8,465.9L592.0,410.1L593.2,374.8L595.3,365.3L597.3,358.7ZM949.1,378.8L949.5,374.8L949.5,528.1L942.2,529.5L937.3,530.9L934.8,531.9L933.0,494.4L933.5,436.6L934.8,428.5L937.3,421.0L940.2,413.9L944.6,406.2L947.1,394.4Z"/>
<polygon fill="#00dc00" points="114.0,568.1 116.9,573.8 119.0,580.0 119.0,590.0 116.9,600.0 114.0,608.0 111.2,600.0 108.8,590.0 108.8,580.0 111.2,573.8"/>
<polygon fill="#a0522d" points="70.0,689.2 100.0,689.2 103.8,687.5 142.5,687.5 146.2,686.2 158.8,684.2 292.5,684.2 297.5,682.5 316.0,682.5 520.0,682.5 717.5,682.5 727.5,680.0 762.5,680.0 768.0,682.5 805.5,682.5 813.0,680.0 905.5,680.0 923.0,677.0 949.5,676.5 949.5,697.0 70.0,697.0"/>
</g>
<line x1="77.1" y1="73.3" x2="949.5" y2="73.3" stroke="#111" stroke-width="1.25" stroke-dasharray="2 6.375"/>
<line x1="77.1" y1="117.0" x2="949.5" y2="117.0" stroke="#111" stroke-width="1.25" stroke-dasharray="2 6.375"/>
<line x1="77.1" y1="158.6" x2="949.5" y2="158.6" stroke="#111" stroke-width="1.25" stroke-dasharray="2 6.375"/>
<line x1="77.1" y1="198.5" x2="949.5" y2="198.5" stroke="#111" stroke-width="1.25" stroke-dasharray="2 6.375"/>
<line x1="77.1" y1="236.6" x2="949.5" y2="236.6" stroke="#111" stroke-width="1.25" stroke-dasharray="2 6.375"/>
<line x1="77.1" y1="273.1" x2="949.5" y2="273.1" stroke="#111" stroke-width="1.25" stroke-dasharray="2 6.375"/>
<line x1="77.1" y1="308.2" x2="949.5" y2="308.2" stroke="#111" stroke-width="1.25" stroke-dasharray="2 6.375"/>
<line x1="77.1" y1="342.0" x2="949.5" y2="342.0" stroke="#111" stroke-width="1.25" stroke-dasharray="2 6.375"/>
<line x1="77.1" y1="374.6" x2="949.5" y2="374.6" stroke="#111" stroke-width="1.25" stroke-dasharray="2 6.375"/>
<line x1="77.1" y1="406.0" x2="949.5" y2="406.0" stroke="#111" stroke-width="1.25" stroke-dasharray="2 6.375"/>
<line x1="77.1" y1="436.4" x2="949.5" y2="436.4" stroke="#111" stroke-width="1.25" stroke-dasharray="2 6.375"/>
<line x1="77.1" y1="465.7" x2="949.5" y2="465.7" stroke="#111" stroke-width="1.25" stroke-dasharray="2 6.375"/>
<line x1="77.1" y1="494.2" x2="949.5" y2="494.2" stroke="#111" stroke-width="1.25" stroke-dasharray="2 6.375"/>
<line x1="77.1" y1="521.7" x2="949.5" y2="521.7" stroke="#111" stroke-width="1.25" stroke-dasharray="2 6.375"/>
<line x1="77.1" y1="548.5" x2="949.5" y2="548.5" stroke="#111" stroke-width="1.25" stroke-dasharray="2 6.375"/>
<line x1="77.1" y1="574.4" x2="949.5" y2="574.4" stroke="#111" stroke-width="1.25" stroke-dasharray="2 6.375"/>
<line x1="77.1" y1="599.7" x2="949.5" y2="599.7" stroke="#111" stroke-width="1.25" stroke-dasharray="2 6.375"/>
<line x1="77.1" y1="624.2" x2="949.5" y2="624.2" stroke="#111" stroke-width="1.25" stroke-dasharray="2 6.375"/>
<line x1="77.1" y1="648.1" x2="949.5" y2="648.1" stroke="#111" stroke-width="1.25" stroke-dasharray="2 6.375"/>
<line x1="77.1" y1="671.3" x2="949.5" y2="671.3" stroke="#111" stroke-width="1.25" stroke-dasharray="2 6.375"/>
<line x1="77.1" y1="694.0" x2="949.5" y2="694.0" stroke="#111" stroke-width="1.25" stroke-dasharray="2 6.375"/>
<line x1="245.9" y1="68.2" x2="245.9" y2="695" stroke="#a0a0a0" stroke-width="1.3" stroke-dasharray="1.7 6.5"/>
<line x1="421.8" y1="68.2" x2="421.8" y2="695" stroke="#a0a0a0" stroke-width="1.3" stroke-dasharray="1.7 6.5"/>
<line x1="597.7" y1="68.2" x2="597.7" y2="695" stroke="#a0a0a0" stroke-width="1.3" stroke-dasharray="1.7 6.5"/>
<line x1="773.6" y1="68.2" x2="773.6" y2="695" stroke="#a0a0a0" stroke-width="1.3" stroke-dasharray="1.7 6.5"/>
<path fill="none" stroke="#fa3c3c" stroke-width="3" stroke-linejoin="round" stroke-linecap="butt" d="M70.0,105.8C71.6,104.9 81.3,99.8 84.5,98.2C87.7,96.7 96.0,92.0 99.2,91.2C102.5,90.5 110.8,92.5 114.0,91.8C117.2,91.0 125.3,84.7 128.5,84.2C131.7,83.8 140.0,87.0 143.2,87.5C146.5,88.0 154.8,88.9 158.0,88.8C161.2,88.6 169.3,86.4 172.5,85.8C175.7,85.1 184.0,83.5 187.2,83.0C190.5,82.5 198.8,81.7 202.0,81.5C205.2,81.3 213.3,81.0 216.5,81.0C219.7,81.0 228.4,83.0 231.2,81.5C234.1,80.0 241.3,69.0 242.5,67.5"/>
<path fill="none" stroke="#fa3c3c" stroke-width="3" stroke-linejoin="round" stroke-linecap="butt" d="M253.8,67.5C254.5,67.9 258.2,70.2 260.5,71.2C262.8,72.3 271.8,76.8 275.0,77.5C278.2,78.2 286.5,77.5 289.8,77.5C293.0,77.5 302.9,77.5 304.5,77.5C306.1,77.5 302.9,77.7 304.5,77.5C306.1,77.3 316.0,74.8 319.2,75.5C322.5,76.2 331.1,84.6 333.8,83.8C336.4,82.9 342.2,69.3 343.2,67.5"/>
<path fill="none" stroke="#fa3c3c" stroke-width="3" stroke-linejoin="round" stroke-linecap="butt" d="M70.0,209.5C71.6,209.1 81.3,207.1 84.5,206.2C87.7,205.4 96.0,202.3 99.2,202.0C102.5,201.7 110.8,204.9 114.0,203.5C117.2,202.1 125.3,191.3 128.5,189.5C131.7,187.7 140.0,187.1 143.2,187.5C146.5,187.9 154.8,193.3 158.0,193.0C161.2,192.7 169.3,185.6 172.5,184.5C175.7,183.4 184.0,183.4 187.2,183.0C190.5,182.6 198.8,180.6 202.0,180.5C205.2,180.4 213.3,182.1 216.5,182.5C219.7,182.9 228.0,184.1 231.2,184.2C234.5,184.4 242.8,183.1 246.0,183.8C249.2,184.4 257.3,190.5 260.5,190.5C263.7,190.5 271.8,184.8 275.0,183.8C278.2,182.7 286.5,180.6 289.8,180.5C293.0,180.4 303.0,182.2 304.5,182.5C306.0,182.8 302.6,184.4 303.8,183.0C304.9,181.6 313.8,171.4 315.0,170.0"/>
<path fill="none" stroke="#fa3c3c" stroke-width="3" stroke-linejoin="round" stroke-linecap="butt" d="M516.2,67.5C516.8,68.2 519.7,72.7 521.2,73.8C522.8,74.8 528.1,76.7 530.0,77.0C531.9,77.3 537.5,77.3 538.8,76.2C540.0,75.2 541.0,68.5 541.2,67.5"/>
<path fill="none" stroke="#fa3c3c" stroke-width="3" stroke-linejoin="round" stroke-linecap="butt" d="M323.8,170.0C324.9,171.2 331.0,180.5 333.8,180.5C336.5,180.5 345.3,171.8 348.5,170.0C351.7,168.2 360.0,165.0 363.2,163.8C366.5,162.5 374.5,159.3 377.8,158.2C381.0,157.2 389.3,154.5 392.5,153.8C395.7,153.0 404.0,151.3 407.2,151.2C410.5,151.2 418.5,153.0 421.8,153.0C425.0,153.0 433.3,149.8 436.5,151.2C439.7,152.7 447.8,164.7 451.0,166.2C454.2,167.8 462.5,164.4 465.8,165.0C469.0,165.6 477.3,171.0 480.5,172.0C483.7,173.0 491.8,174.7 495.0,174.5C498.2,174.3 506.5,170.7 509.8,170.0C513.0,169.3 522.9,168.1 524.5,168.0C526.1,167.9 523.3,168.2 524.5,169.5C525.7,170.8 532.9,178.1 535.0,179.5C537.1,180.9 541.7,181.9 543.8,182.0C545.8,182.1 552.2,181.2 553.8,180.0C555.3,178.8 555.9,173.6 557.5,171.2C559.1,168.9 565.4,159.9 568.2,158.2C571.1,156.6 579.8,157.4 583.0,156.2C586.2,155.1 594.5,147.3 597.8,148.0C601.0,148.7 609.0,163.4 612.2,162.5C615.5,161.6 623.8,140.5 627.0,139.5C630.2,138.5 638.5,154.5 641.8,153.8C645.0,153.0 653.0,134.6 656.2,133.0C659.5,131.4 667.8,138.2 671.0,139.5C674.2,140.8 682.3,143.8 685.5,144.5C688.7,145.2 697.0,146.6 700.2,146.2C703.5,145.9 711.8,142.2 715.0,141.2C718.2,140.3 726.3,137.4 729.5,138.0C732.7,138.6 741.0,144.1 744.2,146.2C747.5,148.4 755.8,156.5 759.0,157.5C762.2,158.5 771.9,155.3 773.5,155.0C775.1,154.7 771.9,155.1 773.5,155.0C775.1,154.9 786.0,154.6 788.2,154.5C790.5,154.4 793.6,154.5 794.2,154.5"/>
<path fill="none" stroke="#fa3c3c" stroke-width="3" stroke-linejoin="round" stroke-linecap="butt" d="M817.5,158.2C819.1,159.3 829.0,166.4 832.2,168.0C835.5,169.6 843.5,171.8 846.8,172.5C850.0,173.2 858.3,175.7 861.5,174.5C864.7,173.3 873.0,166.6 876.2,162.0C879.5,157.4 887.5,133.8 890.8,132.5C894.0,131.2 902.3,148.1 905.5,150.0C908.7,151.9 917.0,148.8 920.2,149.5C923.5,150.2 931.5,155.6 934.8,156.2C938.0,156.9 947.9,155.1 949.5,155.0"/>
<path fill="none" stroke="#fa3c3c" stroke-width="3" stroke-linejoin="round" stroke-linecap="butt" d="M806.8,67.5C807.4,68.1 811.4,72.1 813.0,73.0C814.6,73.9 819.7,75.6 821.8,75.5C823.8,75.4 830.4,73.4 831.8,72.5C833.1,71.6 834.0,68.0 834.2,67.5"/>
<path fill="none" stroke="#a000c8" stroke-width="3" stroke-linejoin="round" stroke-linecap="butt" d="M70.0,466.0C71.6,465.8 81.3,465.3 84.5,463.8C87.7,462.2 96.0,452.6 99.2,452.0C102.5,451.4 110.8,458.1 114.0,458.0C117.2,457.9 125.3,451.8 128.5,451.2C131.7,450.7 140.0,453.5 143.2,453.0C146.5,452.5 154.8,448.2 158.0,447.0C161.2,445.8 169.3,444.2 172.5,442.5C175.7,440.8 184.0,433.0 187.2,431.2C190.5,429.5 198.8,426.2 202.0,426.2C205.2,426.2 213.3,431.3 216.5,431.2C219.7,431.2 228.0,424.1 231.2,425.5C234.5,426.9 242.8,444.6 246.0,444.2C249.2,443.9 258.0,424.0 260.5,422.0C263.0,420.0 267.8,425.8 268.8,426.2"/>
<path fill="none" stroke="#a000c8" stroke-width="3" stroke-linejoin="round" stroke-linecap="butt" d="M281.2,423.8C282.2,422.5 288.0,415.9 289.8,412.5C291.5,409.1 295.9,395.4 297.5,392.5C299.1,389.6 302.1,388.0 304.5,386.2C306.9,384.5 316.0,377.9 319.2,376.2C322.5,374.6 330.5,368.8 333.8,371.2C337.0,373.7 345.3,395.5 348.5,398.8C351.7,402.0 360.0,400.5 363.2,400.5C366.5,400.5 374.5,400.7 377.8,398.8C381.0,396.8 389.3,385.6 392.5,382.5C395.7,379.4 404.0,371.8 407.2,370.5C410.5,369.2 418.5,370.9 421.8,370.5C425.0,370.1 433.3,366.3 436.5,367.0C439.7,367.7 447.8,376.5 451.0,377.0C454.2,377.5 462.5,370.2 465.8,371.2C469.0,372.3 477.3,386.5 480.5,386.2C483.7,386.0 491.8,369.9 495.0,368.8C498.2,367.6 506.5,376.3 509.8,375.8C513.0,375.2 522.9,365.1 524.5,363.8C526.1,362.4 523.9,362.7 524.5,363.2C525.1,363.8 526.8,367.0 530.0,368.8C533.2,370.5 549.5,377.9 553.8,379.5C558.0,381.1 565.0,382.5 568.2,383.0C571.5,383.5 579.8,384.2 583.0,384.2C586.2,384.2 594.5,382.8 597.8,383.0C601.0,383.2 609.0,387.7 612.2,386.2C615.5,384.8 623.8,373.2 627.0,370.0C630.2,366.8 638.5,357.7 641.8,357.0C645.0,356.3 653.0,362.5 656.2,363.8C659.5,365.0 667.8,370.4 671.0,368.8C674.2,367.1 682.3,351.0 685.5,348.8C688.7,346.5 697.0,348.7 700.2,348.0C703.5,347.3 711.8,342.4 715.0,342.5C718.2,342.6 726.3,348.5 729.5,348.8C732.7,349.0 741.0,346.7 744.2,345.0C747.5,343.3 756.3,334.4 759.0,333.0C761.7,331.6 767.7,332.1 768.8,332.0"/>
<path fill="none" stroke="#a000c8" stroke-width="3" stroke-linejoin="round" stroke-linecap="butt" d="M780.5,332.5C781.4,332.6 785.8,332.7 788.2,333.0C790.7,333.3 799.8,334.7 803.0,335.0C806.2,335.3 814.3,334.9 817.5,335.5C820.7,336.1 829.0,339.8 832.2,340.0C835.5,340.2 843.5,337.6 846.8,337.0C850.0,336.4 858.3,334.1 861.5,334.2C864.7,334.4 873.0,337.9 876.2,338.8C879.5,339.6 887.5,342.3 890.8,342.0C894.0,341.7 902.3,336.9 905.5,336.2C908.7,335.6 917.0,334.5 920.2,335.8C923.5,337.0 931.5,344.4 934.8,347.5C938.0,350.6 947.9,362.0 949.5,363.8"/>
<path fill="none" stroke="#a000c8" stroke-width="3" stroke-linejoin="round" stroke-linecap="butt" d="M70.0,642.5C71.4,642.9 80.0,644.9 82.5,646.2C85.0,647.6 88.9,653.5 92.5,655.0C96.1,656.5 110.0,658.4 115.0,660.0C120.0,661.6 134.6,668.4 137.5,670.0C140.4,671.6 141.2,673.9 141.2,675.0C141.2,676.1 138.9,679.0 137.5,680.0C136.1,681.0 131.4,684.2 128.8,683.8C126.1,683.3 116.9,678.3 113.8,676.2C110.6,674.2 102.3,666.3 100.0,665.0C97.7,663.7 93.3,664.6 92.5,664.5"/>
<path fill="none" stroke="#a000c8" stroke-width="3" stroke-linejoin="round" stroke-linecap="butt" d="M70.0,666.0L80.0,666.0"/>
<text x="306.0" y="173.2" font-size="16.5" font-weight="bold" fill="#fa3c3c" stroke="#fa3c3c" stroke-width="0.7" textLength="27.0" lengthAdjust="spacingAndGlyphs">−12</text>
<text x="792.0" y="160.3" font-size="16.5" font-weight="bold" fill="#fa3c3c" stroke="#fa3c3c" stroke-width="0.7" textLength="25.0" lengthAdjust="spacingAndGlyphs">−12</text>
<text x="270.8" y="434.6" font-size="16.5" font-weight="bold" fill="#a000c8" stroke="#a000c8" stroke-width="0.7" textLength="9.2" lengthAdjust="spacingAndGlyphs">0</text>
<text x="768.2" y="338.6" font-size="16.5" font-weight="bold" fill="#a000c8" stroke="#a000c8" stroke-width="0.7" textLength="9.2" lengthAdjust="spacingAndGlyphs">0</text>
<text x="80.0" y="671.6" font-size="16.5" font-weight="bold" fill="#a000c8" stroke="#a000c8" stroke-width="0.7" textLength="9.2" lengthAdjust="spacingAndGlyphs">0</text>
</g>
<path d="M69.9,67.8H949.6V695.9H69.9Z" fill="none" stroke="#000" stroke-width="1.9"/>
<line x1="70.0" y1="68.3" x2="70.0" y2="695" stroke="#fff" stroke-width="0.9" stroke-dasharray="1.5 6.7" opacity="0.85"/>
<line x1="949.5" y1="68.3" x2="949.5" y2="695" stroke="#fff" stroke-width="0.9" stroke-dasharray="1.5 6.7" opacity="0.85"/>
<text x="19.8" y="80.4" font-size="20.2" fill="#222" textLength="40.2" lengthAdjust="spacingAndGlyphs">500</text>
<line x1="60" y1="73.5" x2="62.3" y2="73.5" stroke="#1c1c1c" stroke-width="1.2"/>
<text x="19.8" y="124.1" font-size="20.2" fill="#222" textLength="40.2" lengthAdjust="spacingAndGlyphs">525</text>
<line x1="60" y1="117.2" x2="62.3" y2="117.2" stroke="#1c1c1c" stroke-width="1.2"/>
<text x="19.8" y="165.7" font-size="20.2" fill="#222" textLength="40.2" lengthAdjust="spacingAndGlyphs">550</text>
<line x1="60" y1="158.8" x2="62.3" y2="158.8" stroke="#1c1c1c" stroke-width="1.2"/>
<text x="19.8" y="205.6" font-size="20.2" fill="#222" textLength="40.2" lengthAdjust="spacingAndGlyphs">575</text>
<line x1="60" y1="198.7" x2="62.3" y2="198.7" stroke="#1c1c1c" stroke-width="1.2"/>
<text x="19.8" y="243.7" font-size="20.2" fill="#222" textLength="40.2" lengthAdjust="spacingAndGlyphs">600</text>
<line x1="60" y1="236.8" x2="62.3" y2="236.8" stroke="#1c1c1c" stroke-width="1.2"/>
<text x="19.8" y="280.2" font-size="20.2" fill="#222" textLength="40.2" lengthAdjust="spacingAndGlyphs">625</text>
<line x1="60" y1="273.3" x2="62.3" y2="273.3" stroke="#1c1c1c" stroke-width="1.2"/>
<text x="19.8" y="315.3" font-size="20.2" fill="#222" textLength="40.2" lengthAdjust="spacingAndGlyphs">650</text>
<line x1="60" y1="308.4" x2="62.3" y2="308.4" stroke="#1c1c1c" stroke-width="1.2"/>
<text x="19.8" y="349.1" font-size="20.2" fill="#222" textLength="40.2" lengthAdjust="spacingAndGlyphs">675</text>
<line x1="60" y1="342.2" x2="62.3" y2="342.2" stroke="#1c1c1c" stroke-width="1.2"/>
<text x="19.8" y="381.7" font-size="20.2" fill="#222" textLength="40.2" lengthAdjust="spacingAndGlyphs">700</text>
<line x1="60" y1="374.8" x2="62.3" y2="374.8" stroke="#1c1c1c" stroke-width="1.2"/>
<text x="19.8" y="413.1" font-size="20.2" fill="#222" textLength="40.2" lengthAdjust="spacingAndGlyphs">725</text>
<line x1="60" y1="406.2" x2="62.3" y2="406.2" stroke="#1c1c1c" stroke-width="1.2"/>
<text x="19.8" y="443.5" font-size="20.2" fill="#222" textLength="40.2" lengthAdjust="spacingAndGlyphs">750</text>
<line x1="60" y1="436.6" x2="62.3" y2="436.6" stroke="#1c1c1c" stroke-width="1.2"/>
<text x="19.8" y="472.8" font-size="20.2" fill="#222" textLength="40.2" lengthAdjust="spacingAndGlyphs">775</text>
<line x1="60" y1="465.9" x2="62.3" y2="465.9" stroke="#1c1c1c" stroke-width="1.2"/>
<text x="19.8" y="501.3" font-size="20.2" fill="#222" textLength="40.2" lengthAdjust="spacingAndGlyphs">800</text>
<line x1="60" y1="494.4" x2="62.3" y2="494.4" stroke="#1c1c1c" stroke-width="1.2"/>
<text x="19.8" y="528.8" font-size="20.2" fill="#222" textLength="40.2" lengthAdjust="spacingAndGlyphs">825</text>
<line x1="60" y1="521.9" x2="62.3" y2="521.9" stroke="#1c1c1c" stroke-width="1.2"/>
<text x="19.8" y="555.6" font-size="20.2" fill="#222" textLength="40.2" lengthAdjust="spacingAndGlyphs">850</text>
<line x1="60" y1="548.7" x2="62.3" y2="548.7" stroke="#1c1c1c" stroke-width="1.2"/>
<text x="19.8" y="581.5" font-size="20.2" fill="#222" textLength="40.2" lengthAdjust="spacingAndGlyphs">875</text>
<line x1="60" y1="574.6" x2="62.3" y2="574.6" stroke="#1c1c1c" stroke-width="1.2"/>
<text x="19.8" y="606.8" font-size="20.2" fill="#222" textLength="40.2" lengthAdjust="spacingAndGlyphs">900</text>
<line x1="60" y1="599.9" x2="62.3" y2="599.9" stroke="#1c1c1c" stroke-width="1.2"/>
<text x="19.8" y="631.3" font-size="20.2" fill="#222" textLength="40.2" lengthAdjust="spacingAndGlyphs">925</text>
<line x1="60" y1="624.4" x2="62.3" y2="624.4" stroke="#1c1c1c" stroke-width="1.2"/>
<text x="19.8" y="655.2" font-size="20.2" fill="#222" textLength="40.2" lengthAdjust="spacingAndGlyphs">950</text>
<line x1="60" y1="648.3" x2="62.3" y2="648.3" stroke="#1c1c1c" stroke-width="1.2"/>
<text x="19.8" y="678.4" font-size="20.2" fill="#222" textLength="40.2" lengthAdjust="spacingAndGlyphs">975</text>
<line x1="60" y1="671.5" x2="62.3" y2="671.5" stroke="#1c1c1c" stroke-width="1.2"/>
<text x="6.8" y="701.1" font-size="20.2" fill="#222" textLength="53.2" lengthAdjust="spacingAndGlyphs">1000</text>
<line x1="60" y1="694.2" x2="62.3" y2="694.2" stroke="#1c1c1c" stroke-width="1.2"/>
<line x1="70.0" y1="696" x2="70.0" y2="701.4" stroke="#000" stroke-width="1.6"/>
<text x="52.9" y="718.9" font-size="19.0" fill="#111" textLength="33.8" lengthAdjust="spacingAndGlyphs">00Z</text>
<line x1="245.9" y1="696" x2="245.9" y2="701.4" stroke="#000" stroke-width="1.6"/>
<text x="230.3" y="718.9" font-size="19.0" fill="#111" textLength="31.8" lengthAdjust="spacingAndGlyphs">12Z</text>
<line x1="421.8" y1="696" x2="421.8" y2="701.4" stroke="#000" stroke-width="1.6"/>
<text x="404.7" y="718.9" font-size="19.0" fill="#111" textLength="33.8" lengthAdjust="spacingAndGlyphs">00Z</text>
<line x1="597.7" y1="696" x2="597.7" y2="701.4" stroke="#000" stroke-width="1.6"/>
<text x="582.1" y="718.9" font-size="19.0" fill="#111" textLength="31.8" lengthAdjust="spacingAndGlyphs">12Z</text>
<line x1="773.6" y1="696" x2="773.6" y2="701.4" stroke="#000" stroke-width="1.6"/>
<text x="756.5" y="718.9" font-size="19.0" fill="#111" textLength="33.8" lengthAdjust="spacingAndGlyphs">00Z</text>
<line x1="949.5" y1="696" x2="949.5" y2="701.4" stroke="#000" stroke-width="1.6"/>
<text x="933.9" y="718.9" font-size="19.0" fill="#111" textLength="31.8" lengthAdjust="spacingAndGlyphs">12Z</text>
<text x="46.6" y="737.9" font-size="19.0" fill="#111" textLength="46.8" lengthAdjust="spacingAndGlyphs">3MAR</text>
<text x="398.4" y="737.9" font-size="19.0" fill="#111" textLength="46.8" lengthAdjust="spacingAndGlyphs">4MAR</text>
<text x="750.2" y="737.9" font-size="19.0" fill="#111" textLength="46.8" lengthAdjust="spacingAndGlyphs">5MAR</text>
<text x="46.9" y="757.2" font-size="19.0" fill="#111" textLength="45.6" lengthAdjust="spacingAndGlyphs">2026</text>
<text x="402.1" y="765.7" font-size="22.6" fill="#111" textLength="88.2" lengthAdjust="spacingAndGlyphs">Forecast</text>
<text x="500.6" y="765.7" font-size="22.6" fill="#111" textLength="48.5" lengthAdjust="spacingAndGlyphs">Time</text>
<text x="560.6" y="765.7" font-size="22.6" fill="#111" textLength="56.7" lengthAdjust="spacingAndGlyphs">(UTC)</text>
<text x="825.7" y="760.5" font-size="17.6" fill="#fa3c3c" textLength="189.6" lengthAdjust="spacingAndGlyphs">coolwx.com/modelts</text>
<text x="14.8" y="31.3" font-size="23.6" fill="#161616" textLength="139.6" lengthAdjust="spacingAndGlyphs">2026030300</text>
<text x="167.3" y="31.3" font-size="23.6" fill="#161616" textLength="89.8" lengthAdjust="spacingAndGlyphs">NAM3KM</text>
<text x="269.6" y="31.3" font-size="23.6" fill="#161616" textLength="94.8" lengthAdjust="spacingAndGlyphs">Forecast</text>
<text x="376.3" y="31.3" font-size="23.6" fill="#161616" textLength="75.6" lengthAdjust="spacingAndGlyphs">Omega</text>
<text x="464.1" y="31.3" font-size="23.6" fill="#161616" textLength="94.8" lengthAdjust="spacingAndGlyphs">(shaded,</text>
<text x="570.1" y="31.3" font-size="23.6" fill="#161616" textLength="88.3" lengthAdjust="spacingAndGlyphs">μbar/s)</text>
<text x="673.1" y="31.3" font-size="23.6" fill="#161616" textLength="30.3" lengthAdjust="spacingAndGlyphs">for</text>
<text x="716.1" y="31.3" font-size="23.6" fill="#161616" textLength="59.6" lengthAdjust="spacingAndGlyphs">KCMH</text>
<text x="790.3" y="31.3" font-size="23.6" fill="#161616" textLength="41.6" lengthAdjust="spacingAndGlyphs">with</text>
<text x="844.6" y="31.3" font-size="23.6" fill="#161616" textLength="92.8" lengthAdjust="spacingAndGlyphs">dendritic</text>
<text x="951.1" y="31.3" font-size="23.6" fill="#161616" textLength="52.8" lengthAdjust="spacingAndGlyphs">snow</text>
<text x="76.1" y="54.0" font-size="23.6" fill="#161616" textLength="72.8" lengthAdjust="spacingAndGlyphs">growth</text>
<text x="161.1" y="54.0" font-size="23.6" fill="#161616" textLength="66.6" lengthAdjust="spacingAndGlyphs">region</text>
<text x="240.6" y="54.0" font-size="23.6" fill="#161616" textLength="125.6" lengthAdjust="spacingAndGlyphs">(contoured,</text>
<text x="378.3" y="54.0" font-size="23.6" fill="#161616" textLength="42.8" lengthAdjust="spacingAndGlyphs">red,</text>
<text x="432.6" y="54.0" font-size="23.6" fill="#161616" textLength="31.8" lengthAdjust="spacingAndGlyphs">ºC)</text>
<text x="476.6" y="54.0" font-size="23.6" fill="#161616" textLength="39.8" lengthAdjust="spacingAndGlyphs">and</text>
<text x="529.3" y="54.0" font-size="23.6" fill="#161616" textLength="86.6" lengthAdjust="spacingAndGlyphs">freezing</text>
<text x="628.1" y="54.0" font-size="23.6" fill="#161616" textLength="47.8" lengthAdjust="spacingAndGlyphs">level</text>
<text x="688.6" y="54.0" font-size="23.6" fill="#161616" textLength="124.6" lengthAdjust="spacingAndGlyphs">(contoured,</text>
<text x="826.6" y="54.0" font-size="23.6" fill="#161616" textLength="72.8" lengthAdjust="spacingAndGlyphs">purple,</text>
<text x="911.6" y="54.0" font-size="23.6" fill="#161616" textLength="31.6" lengthAdjust="spacingAndGlyphs">ºC)</text>
<g stroke="#000" stroke-width="1.5" stroke-linejoin="miter">
<polygon fill="#f00082" points="954.3,117.4 963.8,76.4 973.2,117.4"/>
<rect x="954.3" y="117.4" width="18.9" height="41.03" fill="#fa3c3c"/>
<rect x="954.3" y="158.4" width="18.9" height="41.03" fill="#f08228"/>
<rect x="954.3" y="199.5" width="18.9" height="41.03" fill="#e6af2d"/>
<rect x="954.3" y="240.5" width="18.9" height="41.03" fill="#e6dc32"/>
<rect x="954.3" y="281.5" width="18.9" height="41.03" fill="#fff"/>
<rect x="954.3" y="322.6" width="18.9" height="41.03" fill="#00dc00"/>
<rect x="954.3" y="363.6" width="18.9" height="41.03" fill="#00d28c"/>
<rect x="954.3" y="404.6" width="18.9" height="41.03" fill="#00c8c8"/>
<rect x="954.3" y="445.6" width="18.9" height="41.03" fill="#00a0ff"/>
<rect x="954.3" y="486.7" width="18.9" height="41.03" fill="#1e3cff"/>
<rect x="954.3" y="527.7" width="18.9" height="41.03" fill="#8200dc"/>
<rect x="954.3" y="568.7" width="18.9" height="41.03" fill="#a000c8"/>
<rect x="954.3" y="609.8" width="18.9" height="41.03" fill="#aaaaaa"/>
<polygon fill="#000" points="954.3,650.8 963.8,691.8 973.2,650.8"/>
</g>
<text x="977.7" y="123.9" font-size="17.6" fill="#000" textLength="22.7" lengthAdjust="spacingAndGlyphs">20</text>
<text x="977.7" y="164.9" font-size="17.6" fill="#000" textLength="22.7" lengthAdjust="spacingAndGlyphs">16</text>
<text x="977.7" y="206.0" font-size="17.6" fill="#000" textLength="22.7" lengthAdjust="spacingAndGlyphs">12</text>
<text x="977.7" y="247.0" font-size="17.6" fill="#000" textLength="11.9" lengthAdjust="spacingAndGlyphs">8</text>
<text x="977.7" y="288.0" font-size="17.6" fill="#000" textLength="11.9" lengthAdjust="spacingAndGlyphs">4</text>
<text x="978.3" y="328.9" font-size="17.6" fill="#000" textLength="11.5" lengthAdjust="spacingAndGlyphs">−</text>
<text x="991.3" y="329.1" font-size="17.6" fill="#000" textLength="11.9" lengthAdjust="spacingAndGlyphs">4</text>
<text x="978.3" y="370.0" font-size="17.6" fill="#000" textLength="11.5" lengthAdjust="spacingAndGlyphs">−</text>
<text x="991.3" y="370.1" font-size="17.6" fill="#000" textLength="11.9" lengthAdjust="spacingAndGlyphs">8</text>
<text x="978.3" y="411.0" font-size="17.6" fill="#000" textLength="11.5" lengthAdjust="spacingAndGlyphs">−</text>
<text x="991.3" y="411.1" font-size="17.6" fill="#000" textLength="22.7" lengthAdjust="spacingAndGlyphs">12</text>
<text x="978.3" y="452.0" font-size="17.6" fill="#000" textLength="11.5" lengthAdjust="spacingAndGlyphs">−</text>
<text x="991.3" y="452.1" font-size="17.6" fill="#000" textLength="22.7" lengthAdjust="spacingAndGlyphs">16</text>
<text x="978.3" y="493.1" font-size="17.6" fill="#000" textLength="11.5" lengthAdjust="spacingAndGlyphs">−</text>
<text x="991.3" y="493.2" font-size="17.6" fill="#000" textLength="22.7" lengthAdjust="spacingAndGlyphs">20</text>
<text x="978.3" y="534.1" font-size="17.6" fill="#000" textLength="11.5" lengthAdjust="spacingAndGlyphs">−</text>
<text x="991.3" y="534.2" font-size="17.6" fill="#000" textLength="22.7" lengthAdjust="spacingAndGlyphs">24</text>
<text x="978.3" y="575.1" font-size="17.6" fill="#000" textLength="11.5" lengthAdjust="spacingAndGlyphs">−</text>
<text x="991.3" y="575.2" font-size="17.6" fill="#000" textLength="22.7" lengthAdjust="spacingAndGlyphs">28</text>
<text x="978.3" y="616.2" font-size="17.6" fill="#000" textLength="11.5" lengthAdjust="spacingAndGlyphs">−</text>
<text x="991.3" y="616.3" font-size="17.6" fill="#000" textLength="22.7" lengthAdjust="spacingAndGlyphs">32</text>
<text x="978.3" y="657.2" font-size="17.6" fill="#000" textLength="11.5" lengthAdjust="spacingAndGlyphs">−</text>
<text x="991.3" y="657.3" font-size="17.6" fill="#000" textLength="22.7" lengthAdjust="spacingAndGlyphs">36</text>
</svg></body></html>
